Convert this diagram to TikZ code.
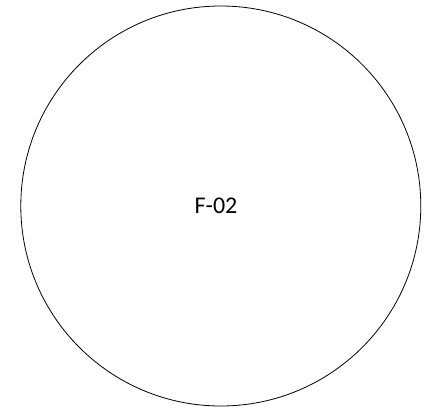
\documentclass[tikz,border=0pt]{standalone}
\usepackage{fontspec}
\setmainfont{Carlito}
\begin{document}
\begin{tikzpicture}[x=1pt,y=1pt,
  circ/.style={draw=black, line width=0.8pt},
  lbl/.style={font=\fontsize{24}{28}\selectfont, text=black}]
\useasboundingbox (0,0) rectangle (428,408);
\node[circ, circle, minimum size=400pt, inner sep=0pt] (c) at (220.8,202) {};
\node[lbl] (t) at (216,202) {F-02};
\end{tikzpicture}
\end{document}
